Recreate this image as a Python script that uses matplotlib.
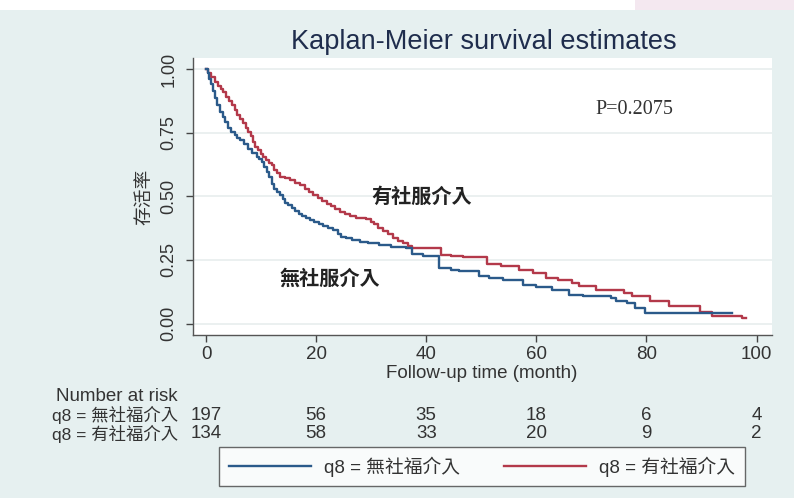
import matplotlib
matplotlib.use('Agg')
import matplotlib.pyplot as plt
import matplotlib.transforms as mtransforms
from matplotlib.patches import Rectangle

plt.rcParams['font.family'] = ['Liberation Sans', 'Noto Sans CJK TC', 'DejaVu Sans']

# Kaplan-Meier step data (time in months, survival)
t_no = [0, 0.3, 0.6, 0.9, 1.2, 1.6, 2.0, 2.5, 3.0, 3.5, 4.0, 4.6, 5.2, 5.7, 6.2, 6.9,
        7.7, 8.4, 9.2, 9.7, 10.1, 10.5, 11.0, 11.4, 11.9, 12.4, 12.9, 13.4, 13.9, 14.4,
        14.95, 15.6, 16.2, 16.8, 17.5, 18.2, 18.9, 19.7, 20.5, 21.3, 22.2, 23.1, 24.0,
        24.6, 25.5, 26.5, 28.0, 29.4, 31.5, 33.6, 36.4, 37.5, 39.5, 42.4, 44.5, 46.0,
        49.6, 51.4, 54.0, 57.5, 60.0, 62.9, 65.9, 68.4, 73.5, 74.4, 76.5, 78.0, 79.8, 95.5]
s_no = [1.00, 0.985, 0.96, 0.94, 0.915, 0.885, 0.86, 0.83, 0.81, 0.79, 0.77, 0.752, 0.74,
        0.73, 0.72, 0.705, 0.687, 0.67, 0.654, 0.645, 0.635, 0.615, 0.595, 0.575, 0.55,
        0.53, 0.515, 0.504, 0.49, 0.475, 0.464, 0.452, 0.442, 0.432, 0.422, 0.413, 0.405,
        0.397, 0.39, 0.383, 0.375, 0.366, 0.352, 0.34, 0.335, 0.33, 0.32, 0.315, 0.31,
        0.30, 0.295, 0.275, 0.265, 0.22, 0.21, 0.205, 0.185, 0.18, 0.17, 0.153, 0.145,
        0.133, 0.113, 0.107, 0.10, 0.087, 0.08, 0.06, 0.041, 0.041]

t_yes = [0, 0.4, 0.9, 1.6, 2.2, 2.7, 3.15, 3.6, 4.1, 4.66, 5.2, 5.7, 6.17, 6.7, 7.2, 7.7,
         8.1, 8.5, 8.9, 9.4, 9.9, 10.4, 10.9, 11.4, 11.9, 12.4, 12.9, 13.4, 14.3, 15.25,
         16.2, 17.1, 17.9, 18.7, 19.5, 20.3, 21.1, 21.9, 22.7, 23.5, 24.3, 25.2, 26.1,
         27.2, 29.0, 30.0, 30.6, 31.3, 32.2, 33.0, 33.9, 34.8, 35.7, 36.6, 37.5, 42.7,
         44.5, 46.6, 51.0, 53.5, 56.9, 59.3, 61.7, 64.0, 66.5, 67.7, 70.8, 75.9, 77.4,
         80.7, 84.1, 89.8, 91.9, 97.3, 98.0]
s_yes = [1.00, 0.985, 0.97, 0.95, 0.935, 0.92, 0.91, 0.89, 0.875, 0.857, 0.84, 0.82,
         0.805, 0.787, 0.77, 0.752, 0.735, 0.712, 0.694, 0.68, 0.665, 0.654, 0.643, 0.632,
         0.622, 0.605, 0.59, 0.576, 0.57, 0.563, 0.553, 0.543, 0.53, 0.517, 0.504, 0.493,
         0.482, 0.471, 0.46, 0.449, 0.438, 0.43, 0.422, 0.415, 0.41, 0.40, 0.39, 0.375,
         0.365, 0.35, 0.335, 0.325, 0.315, 0.305, 0.298, 0.27, 0.265, 0.26, 0.235, 0.225,
         0.21, 0.20, 0.18, 0.172, 0.16, 0.147, 0.133, 0.12, 0.107, 0.087, 0.068, 0.045,
         0.031, 0.02, 0.02]

risk_times = [0, 20, 40, 60, 80, 100]
risk_no = [197, 56, 35, 18, 6, 4]
risk_yes = [134, 58, 33, 20, 9, 2]

label_no = 'q8 = 無社福介入'
label_yes = 'q8 = 有社福介入'
y_ticks = [0, 0.25, 0.5, 0.75, 1.0]

blue = '#2b5a8a'
red = '#b3394a'
bg = '#e6f0f0'

fig = plt.figure(figsize=(7.94, 4.98), dpi=100)
fig.patch.set_facecolor(bg)
fig.add_artist(Rectangle((0, 1 - 10 / 498), 1, 10 / 498, transform=fig.transFigure,
                         facecolor='white', edgecolor='none', zorder=0))
fig.add_artist(Rectangle((0.8, 1 - 10 / 498), 0.2, 10 / 498, transform=fig.transFigure,
                         facecolor='#f4e8f0', edgecolor='none', zorder=0))

ax = fig.add_axes([0.2431, 0.3273, 0.7292, 0.5562])
ax.set_facecolor('white')
for y in y_ticks:
    ax.axhline(y, color='#e8eeee', lw=1.2, zorder=0)

ax.step(t_no, s_no, where='post', color=blue, lw=1.7, label=label_no, zorder=3)
ax.step(t_yes, s_yes, where='post', color=red, lw=1.7, label=label_yes, zorder=2)

ax.set_xlim(-2.36, 102.8)
ax.set_ylim(-0.045, 1.043)
ax.set_xticks(risk_times)
ax.set_yticks(y_ticks)
ax.set_yticklabels(['%.2f' % v for v in y_ticks], rotation=90, va='center')
ax.tick_params(axis='both', colors='#444444', labelcolor='#333333',
               length=5, width=1, pad=6)
ax.tick_params(axis='x', labelsize=13.5, pad=3)
ax.tick_params(axis='y', labelsize=13)
for side in ['top', 'right']:
    ax.spines[side].set_visible(False)
for side in ['left', 'bottom']:
    ax.spines[side].set_color('#555555')
    ax.spines[side].set_linewidth(1)

ax.set_ylabel('存活率', fontsize=13.5, color='#333333', labelpad=5)
fig.text(482 / 794, 1 - 373 / 498, 'Follow-up time (month)', ha='center', va='center',
         fontsize=13.5, color='#333333')

fig.text(484 / 794, 1 - 42 / 498, 'Kaplan-Meier survival estimates', ha='center',
         va='center', fontsize=19.5, color='#1f2d4d')

ax.text(70.7, 0.84, 'P=0.2075', fontsize=14.5, family='Liberation Serif',
        color='#333333', va='center', ha='left')
ax.text(39.1, 0.50, '有社服介入', fontsize=14.5, fontweight='bold',
        family=['Noto Sans CJK TC'], color='#222222', ha='center', va='center')
ax.text(22.5, 0.177, '無社服介入', fontsize=14.5, fontweight='bold',
        family=['Noto Sans CJK TC'], color='#222222', ha='center', va='center')

# number-at-risk table
tr = mtransforms.blended_transform_factory(ax.transData, fig.transFigure)
row_y = [1 - 415 / 498, 1 - 434 / 498]
fig.text(178 / 794, 1 - 396 / 498, 'Number at risk', ha='right', va='center',
         fontsize=13.5, color='#333333')
for yy, lab, vals in zip(row_y, [label_no, label_yes], [risk_no, risk_yes]):
    fig.text(178 / 794, yy, lab, ha='right', va='center', fontsize=12.5, color='#333333')
    for t, v in zip(risk_times, vals):
        ax.text(t, yy, str(v), transform=tr, ha='center', va='center',
                fontsize=13.5, color='#333333', clip_on=False)

leg = fig.legend(loc='center', bbox_to_anchor=(482 / 794, 1 - 466.5 / 498), ncol=2,
                 fontsize=13.5, frameon=True, fancybox=False, handlelength=4.4,
                 columnspacing=2.3, borderpad=0.5, handletextpad=0.7)
leg.get_frame().set_edgecolor('#444444')
leg.get_frame().set_linewidth(1)
leg.get_frame().set_facecolor('white')
for txt in leg.get_texts():
    txt.set_color('#333333')

fig.savefig('out.png', dpi=100, facecolor=fig.get_facecolor())
